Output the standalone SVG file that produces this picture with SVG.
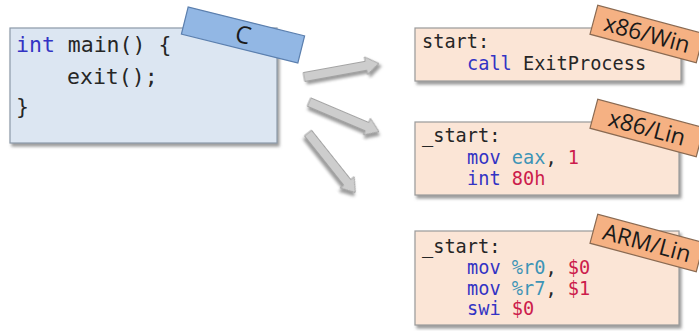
<svg xmlns="http://www.w3.org/2000/svg" width="699" height="331" viewBox="0 0 699 331">
<defs>
<filter id="sh" x="-10%" y="-10%" width="125%" height="135%">
<feDropShadow dx="2" dy="3" stdDeviation="1.5" flood-color="#707070" flood-opacity="0.7"/>
</filter>
<polygon id="arr" points="0,-4.5 63,-4.5 63,-9 76,0 63,9 63,4.5 0,4.5"/>
</defs>
<style>
.code{font-family:"DejaVu Sans Mono","Liberation Mono",monospace;fill:#262626}
.big{font-size:21.5px}
.sm{font-size:18.6px}
.kw{fill:#3333c4}
.rg{fill:#3d94b6}
.nm{fill:#cc1c4c}
.box-c{fill:#dce6f2;stroke:#8c99a8;stroke-width:1.2}
.box-a{fill:#fbe5d6;stroke:#9a9a9a;stroke-width:1.2}
.tag-c{fill:#92b7e4;stroke:#5b7fae;stroke-width:1.2}
.tag-a{fill:#f5b183;stroke:#8a6a52;stroke-width:1.2}
.tagt{font-family:"Open Sans","Liberation Sans",sans-serif;fill:#1a1a1a;text-anchor:middle}
.ar{fill:#cdcdcd;stroke:#a3a3a3;stroke-width:1}
</style>

<g id="connectors">
<use href="#arr" class="ar" filter="url(#sh)" transform="translate(304,77) rotate(-10.3)"/>
<use href="#arr" class="ar" filter="url(#sh)" transform="translate(309,102) rotate(23)"/>
<use href="#arr" class="ar" filter="url(#sh)" transform="translate(308,133) rotate(51.5)"/>
</g>

<g id="node-c">
<rect class="box-c" x="10" y="28" width="267" height="115" filter="url(#sh)"/>
<text class="code big" x="16" y="52"><tspan class="kw">int</tspan> main() {</text>
<text class="code big" x="67" y="84">exit();</text>
<text class="code big" x="16" y="114">}</text>
<g transform="translate(243,35) rotate(14)">
<rect class="tag-c" x="-60" y="-14" width="120" height="28"/>
<text class="tagt" x="0" y="8" font-size="24">C</text>
</g>
</g>

<g id="node-x86win">
<rect class="box-a" x="415" y="28" width="266" height="53" filter="url(#sh)"/>
<text class="code sm" x="422" y="48">start:</text>
<text class="code sm" x="467" y="70"><tspan class="kw">call</tspan> ExitProcess</text>
<g transform="translate(647,34) rotate(15)">
<rect class="tag-a" x="-55" y="-15" width="110" height="30"/>
<text class="tagt" x="0" y="8" font-size="23">x86/Win</text>
</g>
</g>

<g id="node-x86lin">
<rect class="box-a" x="415" y="122" width="264" height="73" filter="url(#sh)"/>
<text class="code sm" x="422" y="142">_start:</text>
<text class="code sm" x="467" y="164"><tspan class="kw">mov</tspan> <tspan class="rg">eax</tspan>, <tspan class="nm">1</tspan></text>
<text class="code sm" x="467" y="185"><tspan class="kw">int</tspan> <tspan class="nm">80h</tspan></text>
<g transform="translate(647,128) rotate(15)">
<rect class="tag-a" x="-55" y="-15" width="110" height="30"/>
<text class="tagt" x="0" y="8" font-size="23">x86/Lin</text>
</g>
</g>

<g id="node-armlin">
<rect class="box-a" x="415" y="231" width="264" height="94" filter="url(#sh)"/>
<text class="code sm" x="422" y="253">_start:</text>
<text class="code sm" x="467" y="274"><tspan class="kw">mov</tspan> <tspan class="rg">%r0</tspan>, <tspan class="nm">$0</tspan></text>
<text class="code sm" x="467" y="295"><tspan class="kw">mov</tspan> <tspan class="rg">%r7</tspan>, <tspan class="nm">$1</tspan></text>
<text class="code sm" x="467" y="315"><tspan class="kw">swi</tspan> <tspan class="nm">$0</tspan></text>
<g transform="translate(647,243) rotate(15)">
<rect class="tag-a" x="-55" y="-15" width="110" height="30"/>
<text class="tagt" x="0" y="8" font-size="23">ARM/Lin</text>
</g>
</g>
</svg>
